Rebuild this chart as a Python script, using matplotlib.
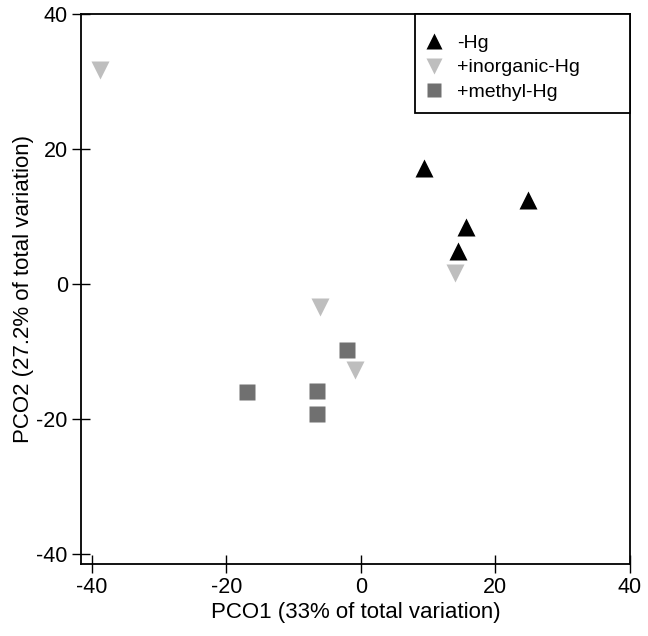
import matplotlib.pyplot as plt
from matplotlib.patches import Rectangle

plt.rcParams['font.family'] = ['Liberation Sans', 'DejaVu Sans']
plt.rcParams['axes.unicode_minus'] = False

# -Hg (black up triangles)
ctrl_x = [9.4, 24.9, 15.6, 14.5]
ctrl_y = [17.1, 12.4, 8.4, 4.8]
# +inorganic-Hg (light grey down triangles)
inorg_x = [-38.8, -6.1, -0.8, 14.0]
inorg_y = [31.7, -3.4, -12.7, 1.6]
# +methyl-Hg (dark grey squares)
methyl_x = [-2.1, -16.9, -6.5, -6.5]
methyl_y = [-9.8, -16.0, -15.8, -19.3]

ticks = [-40, -20, 0, 20, 40]

fig = plt.figure(figsize=(6.48, 6.36), dpi=100)
ax = fig.add_axes([0.125, 0.1132, 0.847, 0.865])

ax.plot(ctrl_x, ctrl_y, '^', color='black', ms=13, mec='none', label='-Hg')
ax.plot(inorg_x, inorg_y, 'v', color='#bebebe', ms=13, mec='none', label='+inorganic-Hg')
ax.plot(methyl_x, methyl_y, 's', color='#707070', ms=11, mec='none', label='+methyl-Hg')

ax.set_xlim(-41.6, 40)
ax.set_ylim(-41.5, 40)
ax.set_xticks(ticks)
ax.set_yticks(ticks)
ax.tick_params(direction='inout', length=13, width=1, labelsize=15.5, pad=3)
for s in ax.spines.values():
    s.set_linewidth(1.3)

ax.set_xlabel('PCO1 (33% of total variation)', fontsize=16, labelpad=3)
ax.set_ylabel('PCO2 (27.2% of total variation)', fontsize=16, labelpad=2)

# legend box drawn by hand so its size matches the original
box = Rectangle((0.608, 0.82), 0.392, 0.18, transform=ax.transAxes,
                facecolor='white', edgecolor='black', lw=1.3, clip_on=False, zorder=4)
ax.add_patch(box)
leg = ax.legend(loc='upper left', bbox_to_anchor=(0.625, 0.963), frameon=False,
                borderaxespad=0, borderpad=0, fontsize=14, labelspacing=0.36,
                handletextpad=0.69, handlelength=1.0, markerscale=0.9)
leg.set_zorder(5)

fig.savefig('out.png', dpi=100)
